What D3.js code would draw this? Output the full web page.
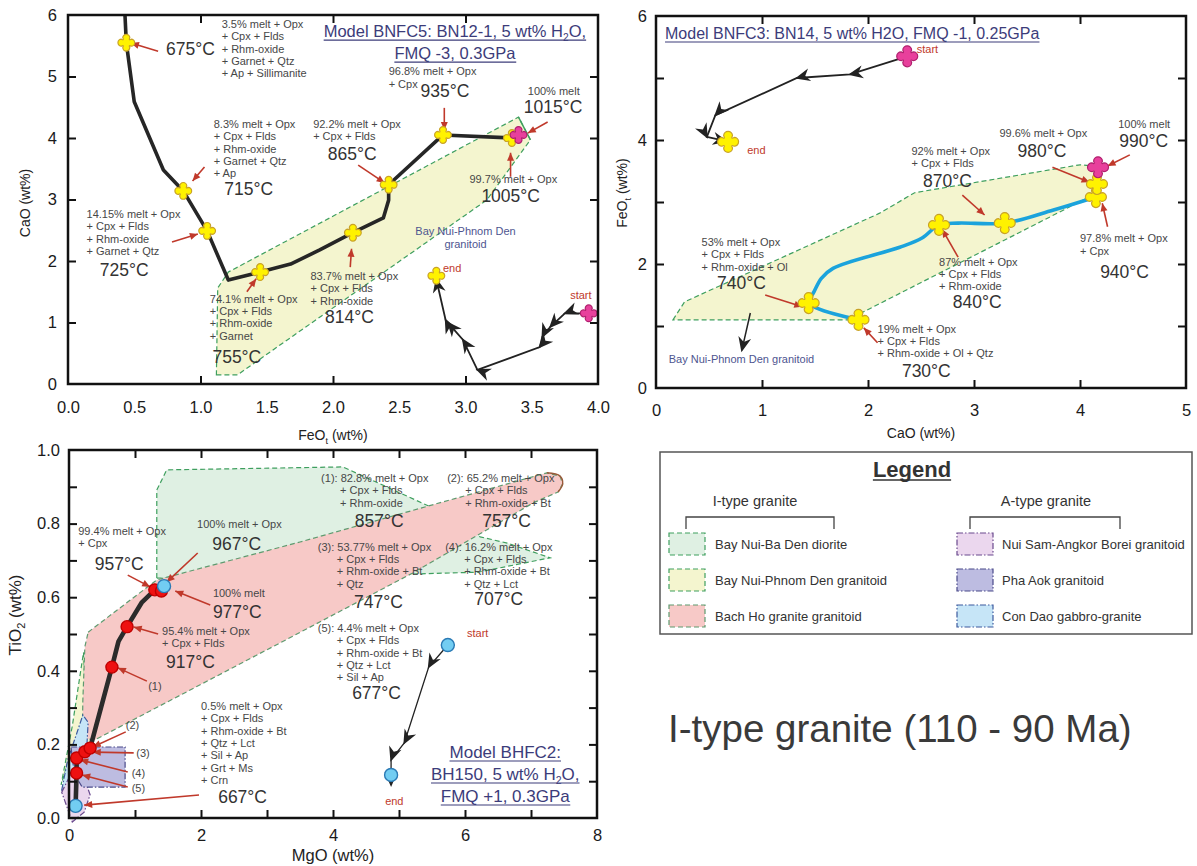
<!DOCTYPE html>
<html>
<head>
<meta charset="utf-8">
<script src="https://cdn.jsdelivr.net/npm/d3@7"></script>
<style>
  body { margin: 0; background: #fff; }
  svg { display: block; }
</style>
</head>
<body>
<svg id="chart" width="1197" height="866"></svg>
<script>
const FONT = '"Liberation Sans", Arial, Helvetica, sans-serif';

// ===================== Model BNFC5 : FeOt (x) vs CaO (y) =====================
const bnfc5Path = [[0.43,6.0],[0.44,5.55],[0.5,4.59],[0.72,3.48],[0.87,3.14],[1.05,2.49],[1.21,1.69],
  [1.45,1.82],[1.68,1.95],[1.90,2.18],[2.15,2.46],[2.38,2.70],[2.42,2.99],[2.42,3.24],[2.83,4.05],[3.35,4.0]];
const bnfc5Steps = [[0.44,5.55],[0.87,3.14],[1.05,2.49],[1.45,1.82],[2.15,2.46],[2.42,3.24],[2.83,4.05],[3.35,4.0]];
const bnfc5Liquid = [[3.40,4.05]];
const bnfc5Start = [3.93,1.15];
const bnfc5End = [2.78,1.76];
const bnfc5Descent = [[3.93,1.15],[3.75,1.15],[3.64,0.93],[3.58,0.77],[3.56,0.60],[3.09,0.23],[2.98,0.72],[2.87,0.99],[2.85,1.04],[2.78,1.70]];
const bnfc5Field = [[1.12,0.15],[1.28,0.15],[3.16,2.99],[3.49,3.97],[3.40,4.34],[1.21,1.82],[1.13,1.56]];
const bnfc5FieldEdge = [[3.40,4.34],[3.49,3.97]];
const bnfc5Notes = [
  {at:[1.16,5.79], lines:['3.5% melt + Opx','+ Cpx + Flds','+ Rhm-oxide','+ Garnet + Qtz','+ Ap + Sillimanite']},
  {at:[1.10,4.16], lines:['8.3% melt + Opx','+ Cpx + Flds','+ Rhm-oxide','+ Garnet + Qtz','+ Ap']},
  {at:[0.14,2.70], lines:['14.15% melt + Opx','+ Cpx + Flds','+ Rhm-oxide','+ Garnet + Qtz']},
  {at:[1.07,1.32], lines:['74.1% melt + Opx','+ Cpx + Flds','+ Rhm-oxide','+ Garnet']},
  {at:[1.83,1.69], lines:['83.7% melt + Opx','+ Cpx + Flds','+ Rhm-oxide']},
  {at:[1.85,4.16], lines:['92.2% melt + Opx','+ Cpx + Flds']},
  {at:[2.42,5.02], lines:['96.8% melt + Opx','+ Cpx']},
  {at:[3.47,4.70], lines:['100% melt']},
  {at:[3.03,3.27], lines:['99.7% melt + Opx']}
];
const bnfc5Temps = [
  {at:[0.74,5.35], t:'675°C'}, {at:[1.18,3.07], t:'715°C'}, {at:[0.24,1.76], t:'725°C'},
  {at:[1.09,0.34], t:'755°C'}, {at:[1.94,0.99], t:'814°C'}, {at:[1.96,3.64], t:'865°C'},
  {at:[2.66,4.67], t:'935°C'}, {at:[3.44,4.41], t:'1015°C'}, {at:[3.12,2.96], t:'1005°C'}
];
const bnfc5Pointers = [
  [[0.68,5.41],[0.475,5.545]], [[1.03,3.53],[0.94,3.30]], [[0.785,2.31],[0.98,2.44]],
  [[1.35,1.50],[1.42,1.71]], [[2.13,1.90],[2.14,2.20]], [[2.19,3.56],[2.39,3.27]],
  [[2.84,4.49],[2.84,4.13]], [[3.62,4.26],[3.47,4.08]], [[3.34,3.37],[3.34,3.76]]
];
const bnfc5FieldName = {at:[3.0,2.42], lines:['Bay Nui-Phnom Den','granitoid']};
const bnfc5Title = [[['Model BNFC5: BN12-1, 5 wt% H'],['2',true],['O,']], [['FMQ -3, 0.3GPa']]];
const bnfc5TitleAt = [2.92,5.64];

// ===================== Model BNFC3 : CaO (x) vs FeOt (y) =====================
const bnfc3Path = [[1.91,1.10],[1.44,1.37],[1.49,1.55],[1.56,1.77],[1.67,1.93],[2.30,2.27],[2.51,2.42],
  [2.67,2.63],[2.85,2.66],[3.29,2.66],[3.75,2.87],[4.15,3.08]];
const bnfc3Steps = [[1.91,1.10],[1.44,1.37],[2.67,2.63],[3.29,2.66],[4.15,3.08],[4.16,3.29]];
const bnfc3Liquid = [[4.17,3.56]];
const bnfc3Start = [2.37,5.35];
const bnfc3End = [0.68,3.97];
const bnfc3Descent = [[2.37,5.35],[1.83,5.06],[1.33,5.0],[0.56,4.40],[0.48,4.05],[0.66,3.98]];
const bnfc3Field = [[0.16,1.10],[0.27,1.39],[2.11,2.82],[2.44,3.15],[4.0,3.60],[4.14,3.58],[4.12,3.11],[1.81,1.10]];
const bnfc3FieldPointer = [[0.89,1.21],[0.81,0.61]];
const bnfc3Notes = [
  {at:[4.36,4.19], lines:['100% melt']},
  {at:[3.24,4.05], lines:['99.6% melt + Opx']},
  {at:[2.41,3.76], lines:['92% melt + Opx','+ Cpx + Flds']},
  {at:[4.00,2.35], lines:['97.8% melt + Opx','+ Cpx']},
  {at:[2.67,1.97], lines:['87% melt + Opx','+ Cpx + Flds','+ Rhm-oxide']},
  {at:[2.09,0.89], lines:['19% melt + Opx','+ Cpx + Flds','+ Rhm-oxide + Ol + Qtz']},
  {at:[0.43,2.29], lines:['53% melt + Opx','+ Cpx + Flds','+ Rhm-oxide + Ol']}
];
const bnfc3Temps = [
  {at:[4.37,3.89], t:'990°C'}, {at:[3.41,3.73], t:'980°C'}, {at:[2.52,3.24], t:'870°C'},
  {at:[4.19,1.77], t:'940°C'}, {at:[2.80,1.29], t:'840°C'}, {at:[2.32,0.18], t:'730°C'},
  {at:[0.575,1.60], t:'740°C'}
];
const bnfc3Pointers = [
  [[4.47,3.76],[4.26,3.58]], [[3.74,3.56],[4.09,3.32]], [[2.89,3.11],[3.10,2.79]],
  [[4.26,2.60],[4.21,2.98]], [[2.85,2.11],[2.70,2.56]], [[2.09,0.73],[1.96,0.97]],
  [[1.03,1.50],[1.38,1.31]]
];
const bnfc3FieldName = {at:[0.12,0.40], lines:['Bay Nui-Phnom Den granitoid']};
const bnfc3Title = [[['Model BNFC3: BN14, 5 wt% H2O, FMQ -1, 0.25GPa']]];
const bnfc3TitleAt = [0.085,5.63];

// ===================== Model BHFC2 : MgO (x) vs TiO2 (y) =====================
const bhfc2Path = [[0.10,0.033],[0.115,0.122],[0.115,0.163],[0.24,0.18],[0.32,0.19],[0.65,0.41],
  [0.75,0.48],[0.88,0.52],[1.10,0.585],[1.30,0.62],[1.44,0.63]];
const bhfc2Solid = [[0.115,0.122],[0.115,0.163],[0.24,0.18],[0.32,0.19],[0.65,0.41],[0.88,0.52],[1.30,0.62],[1.40,0.617]];
const bhfc2Liquid = [[0.10,0.033],[1.44,0.63]];
const bhfc2Start = [5.74,0.47];
const bhfc2End = [4.88,0.117];
const bhfc2Descent = [[5.74,0.47],[5.45,0.41],[5.08,0.204],[4.88,0.158],[4.88,0.09]];
const dioriteField = [[1.33,0.652],[1.33,0.891],[1.48,0.946],[4.15,0.954],[5.52,0.842],[6.23,0.764],
  [6.64,0.747],[7.29,0.707],[6.20,0.668],[5.21,0.663]];
const phnomDenField = [[0.22,0.45],[0.25,0.33],[0.33,0.20],[0.0,0.16],[-0.12,0.09],[0.05,0.25]];
const bachHoField = [[0.29,0.505],[1.33,0.647],[3.50,0.75],[7.24,0.938],[7.44,0.929],[7.48,0.908],
  [7.41,0.886],[7.03,0.856],[5.21,0.666],[3.20,0.476],[0.39,0.212],[0.20,0.217],[0.21,0.321],[0.24,0.465]];
const bachHoTip = [[7.24,0.938],[7.44,0.929],[7.48,0.908],[7.41,0.886]];
const conDaoField = [[-0.11,0.076],[-0.02,0.158],[0.11,0.226],[0.21,0.28],[0.29,0.26],[0.26,0.158],[0.17,0.076]];
const phaAokField = [[0.03,0.193],[0.85,0.193],[0.85,0.084],[0.20,0.084],[0.08,0.12]];
const nuiSamField = [[-0.11,0.07],[0.02,0.117],[0.23,0.109],[0.32,0.063],[0.23,0.016],[0.05,-0.011]];
const bhfc2Notes = [
  {at:[0.14,0.769], lines:['99.4% melt + Opx','+ Cpx']},
  {at:[1.94,0.788], lines:['100% melt + Opx']},
  {at:[2.18,0.600], lines:['100% melt']},
  {at:[1.41,0.497], lines:['95.4% melt + Opx','+ Cpx + Flds']},
  {at:[3.82,0.913], lines:['(1): 82.8% melt + Opx','+ Cpx + Flds','+ Rhm-oxide'], indent:19},
  {at:[5.73,0.913], lines:['(2): 65.2% melt + Opx','+ Cpx + Flds','+ Rhm-oxide + Bt'], indent:18},
  {at:[3.77,0.726], lines:['(3): 53.77% melt + Opx','+ Cpx + Flds','+ Rhm-oxide + Bt','+ Qtz'], indent:19},
  {at:[5.70,0.726], lines:['(4): 16.2% melt + Opx','+ Cpx + Flds','+ Rhm-oxide + Bt','+ Qtz + Lct'], indent:19},
  {at:[3.77,0.505], lines:['(5): 4.4% melt + Opx','+ Cpx + Flds','+ Rhm-oxide + Bt','+ Qtz + Lct','+ Sil + Ap'], indent:19},
  {at:[2.00,0.293], lines:['0.5% melt + Opx','+ Cpx + Flds','+ Rhm-oxide + Bt','+ Qtz + Lct','+ Sil + Ap','+ Grt + Ms','+ Crn']},
  {at:[1.20,0.348], lines:['(1)']}, {at:[0.86,0.242], lines:['(2)']}, {at:[1.02,0.166], lines:['(3)']},
  {at:[0.95,0.111], lines:['(4)']}, {at:[0.95,0.071], lines:['(5)']}
];
const bhfc2Temps = [
  {at:[0.39,0.674], t:'957°C'}, {at:[2.17,0.728], t:'967°C'}, {at:[2.18,0.543], t:'977°C'},
  {at:[1.47,0.408], t:'917°C'}, {at:[4.33,0.791], t:'857°C'}, {at:[6.26,0.791], t:'757°C'},
  {at:[4.32,0.571], t:'747°C'}, {at:[6.14,0.579], t:'707°C'}, {at:[4.29,0.323], t:'677°C'},
  {at:[2.26,0.041], t:'667°C'}
];
const bhfc2Pointers = [
  [[0.89,0.66],[1.23,0.628]], [[1.95,0.72],[1.48,0.641]], [[2.14,0.579],[1.61,0.617]],
  [[1.35,0.50],[0.98,0.519]], [[1.18,0.372],[0.74,0.408]], [[0.86,0.234],[0.36,0.193]],
  [[0.98,0.177],[0.36,0.179]], [[0.89,0.125],[0.17,0.158]], [[0.89,0.084],[0.20,0.117]],
  [[1.97,0.0625],[0.23,0.035]]
];
const bhfc2Title = [[['Model BHFC2:']], [['BH150, 5 wt% H'],['2',true],['O,']], [['FMQ +1, 0.3GPa']]];
const bhfc2TitleAt = [6.61,0.163];

// ===================== axis ticks and labels =====================
const feoLabelsA = [0,0.5,1,1.5,2,2.5,3,3.5,4];
const feoTicksA = [1,2,3];
const caoLabelsA = [0,1,2,3,4,5,6];
const caoTicksA = [1,2,3,4,5];
const caoLabelsB = [0,1,2,3,4,5];
const caoTicksB = [1,2,3,4];
const feoLabelsB = [0,2,4,6];
const feoTicksB = [1,2,3,4,5];
const mgoLabels = [0,2,4,6,8];
const mgoTicks = [1,2,3,4,5,6,7];
const tioLabels = [0,0.2,0.4,0.6,0.8,1.0];
const tioTicks = [0.1,0.2,0.3,0.4,0.5,0.6,0.7,0.8,0.9];

// ===================== legend =====================
const iTypeUnits = ['Bay Nui-Ba Den diorite','Bay Nui-Phnom Den granitoid','Bach Ho granite granitoid'];
const aTypeUnits = ['Nui Sam-Angkor Borei granitoid','Pha Aok granitoid','Con Dao gabbro-granite'];

// ----- field styles -----
const fieldStyle = {
  'Bay Nui-Ba Den diorite':        {fill:'#dff0e3', stroke:'#3f9f5f', dash:'5,3'},
  'Bay Nui-Phnom Den granitoid':   {fill:'#f4f5cf', stroke:'#3f9f5f', dash:'5,3'},
  'Bach Ho granite granitoid':     {fill:'#f7c9c7', stroke:'#5f9a6f', dash:'5,3'},
  'Nui Sam-Angkor Borei granitoid':{fill:'#ebd7ee', stroke:'#6a4a8e', dash:'6,2,1.5,2'},
  'Pha Aok granitoid':             {fill:'#bdbce1', stroke:'#4a4a8a', dash:'6,2,1.5,2'},
  'Con Dao gabbro-granite':        {fill:'#c6e5f7', stroke:'#3d5a9e', dash:'6,2,1.5,2'}
};

const svg = d3.select('#chart');
const defs = svg.append('defs');

// arrowheads
defs.append('marker').attr('id','headBlack').attr('markerUnits','userSpaceOnUse')
  .attr('viewBox','-15 -8 18 16').attr('refX',0).attr('refY',0)
  .attr('markerWidth',18).attr('markerHeight',16).attr('orient','auto')
  .append('path').attr('d','M2,0 L-13,-6.5 L-8.5,0 L-13,6.5 Z').attr('fill','#222');
defs.append('marker').attr('id','headRed').attr('markerUnits','userSpaceOnUse')
  .attr('viewBox','-9 -5 10 10').attr('refX',0).attr('refY',0)
  .attr('markerWidth',10).attr('markerHeight',10).attr('orient','auto')
  .append('path').attr('d','M0,0 L-8,-3.5 L-8,3.5 Z').attr('fill','#c0392b');

// four-lobed marker used for the model steps
const quatrefoil = {
  draw(ctx, size) {
    const r = Math.sqrt(size) / 2;
    const w = r * 0.42;
    const k = w * 0.55;
    ctx.moveTo(-w, -r + w);
    ctx.arc(0, -r + w, w, Math.PI, 0);
    ctx.quadraticCurveTo(k, -k, r - w, -w);
    ctx.arc(r - w, 0, w, -Math.PI / 2, Math.PI / 2);
    ctx.quadraticCurveTo(k, k, w, r - w);
    ctx.arc(0, r - w, w, 0, Math.PI);
    ctx.quadraticCurveTo(-k, k, -r + w, w);
    ctx.arc(-r + w, 0, w, Math.PI / 2, 3 * Math.PI / 2);
    ctx.quadraticCurveTo(-k, -k, -w, -r + w);
    ctx.closePath();
  }
};

const panels = {
  A: {x: d3.scaleLinear().domain([0,4]).range([68,598]), y: d3.scaleLinear().domain([0,6]).range([384,15])},
  B: {x: d3.scaleLinear().domain([0,5]).range([656,1186]), y: d3.scaleLinear().domain([0,6]).range([388,16])},
  C: {x: d3.scaleLinear().domain([0,8]).range([69,597]), y: d3.scaleLinear().domain([0,1]).range([818,450])}
};

function lineOf(p, curve) {
  return d3.line().x(d => p.x(d[0])).y(d => p.y(d[1])).curve(curve || d3.curveLinear);
}

function drawField(p, pts, name) {
  const s = fieldStyle[name];
  svg.append('path').attr('d', lineOf(p)(pts) + 'Z')
    .attr('fill', s.fill).attr('stroke', s.stroke).attr('stroke-width', 1.2)
    .attr('stroke-dasharray', s.dash);
}

function drawDescent(p, pts, width) {
  svg.append('path').attr('d', lineOf(p)(pts)).attr('fill','none')
    .attr('stroke','#222').attr('stroke-width', width || 1.8)
    .attr('marker-mid','url(#headBlack)').attr('marker-end','url(#headBlack)');
}

function drawPointers(p, list) {
  list.forEach(seg => {
    svg.append('line')
      .attr('x1', p.x(seg[0][0])).attr('y1', p.y(seg[0][1]))
      .attr('x2', p.x(seg[1][0])).attr('y2', p.y(seg[1][1]))
      .attr('stroke','#c0392b').attr('stroke-width',1.6)
      .attr('marker-end','url(#headRed)');
  });
}

function drawStars(p, pts, size, fill, stroke) {
  const sym = d3.symbol().type(quatrefoil).size(size);
  svg.append('g').selectAll('path').data(pts).join('path')
    .attr('transform', d => `translate(${p.x(d[0])},${p.y(d[1])})`)
    .attr('d', sym).attr('fill', fill).attr('stroke', stroke).attr('stroke-width', 1.2);
}

function drawDots(p, pts, r, fill, stroke) {
  svg.append('g').selectAll('circle').data(pts).join('circle')
    .attr('cx', d => p.x(d[0])).attr('cy', d => p.y(d[1])).attr('r', r)
    .attr('fill', fill).attr('stroke', stroke).attr('stroke-width', 1.4);
}

function drawNotes(p, notes, opts) {
  const o = Object.assign({size:11, gap:12.3, fill:'#474747', anchor:'start'}, opts || {});
  notes.forEach(n => {
    const t = svg.append('text').attr('font-family', FONT).attr('font-size', o.size)
      .attr('fill', o.fill).attr('text-anchor', o.anchor);
    n.lines.forEach((ln, i) => {
      t.append('tspan').attr('x', p.x(n.at[0]) + (i > 0 && n.indent ? n.indent : 0))
        .attr('y', p.y(n.at[1]) + i * o.gap).text(ln);
    });
  });
}

function drawTemps(p, temps) {
  temps.forEach(d => {
    svg.append('text').attr('x', p.x(d.at[0])).attr('y', p.y(d.at[1]))
      .attr('font-family', FONT).attr('font-size', 17.5).attr('fill', '#333').text(d.t);
  });
}

function richText(sel, segs, subSize) {
  let shifted = false;
  segs.forEach(([s, sub]) => {
    const ts = sel.append('tspan').text(s);
    if (sub && !shifted) { ts.attr('dy', 3.5).attr('font-size', subSize); shifted = true; }
    else if (!sub && shifted) { ts.attr('dy', -3.5); shifted = false; }
    else if (sub) ts.attr('font-size', subSize);
  });
  return sel;
}

function drawTitle(p, lines, at, anchor, size, gap) {
  lines.forEach((segs, i) => {
    const y = p.y(at[1]) + i * gap;
    const t = svg.append('text').attr('x', p.x(at[0])).attr('y', y)
      .attr('font-family', FONT).attr('font-size', size).attr('fill', '#3c3c7a')
      .attr('text-anchor', anchor);
    richText(t, segs, size * 0.62);
    const b = t.node().getBBox();
    svg.append('line').attr('x1', b.x).attr('x2', b.x + b.width)
      .attr('y1', y + 3).attr('y2', y + 3).attr('stroke', '#3c3c7a').attr('stroke-width', 1.1);
  });
}

function drawFrame(p, o) {
  const [xl, xr] = p.x.range();
  const [yb, yt] = p.y.range();
  const g = svg.append('g');
  g.append('g').attr('transform', `translate(0,${yb})`)
    .call(d3.axisBottom(p.x).tickValues(o.xTicks).tickSize(-8).tickFormat(''));
  g.append('g').attr('transform', `translate(0,${yt})`)
    .call(d3.axisTop(p.x).tickValues(o.xTicks).tickSize(-8).tickFormat(''));
  g.append('g').attr('transform', `translate(${xl},0)`)
    .call(d3.axisLeft(p.y).tickValues(o.yTicks).tickSize(-8).tickFormat(''));
  g.append('g').attr('transform', `translate(${xr},0)`)
    .call(d3.axisRight(p.y).tickValues(o.yTicks).tickSize(-8).tickFormat(''));
  // tick labels
  g.append('g').attr('transform', `translate(0,${yb})`)
    .call(d3.axisBottom(p.x).tickValues(o.xLabels).tickSize(0).tickPadding(o.xPad).tickFormat(o.xFmt));
  g.append('g').attr('transform', `translate(${xl},0)`)
    .call(d3.axisLeft(p.y).tickValues(o.yLabels).tickSize(0).tickPadding(o.yPad).tickFormat(o.yFmt));
  g.selectAll('.domain').remove();
  g.selectAll('.tick line').attr('stroke', '#111').attr('stroke-width', 2);
  g.selectAll('.tick text').attr('font-family', FONT).attr('font-size', 16.5).attr('fill', '#1a1a1a');
  g.append('rect').attr('x', xl).attr('y', yt).attr('width', xr - xl).attr('height', yb - yt)
    .attr('fill', 'none').attr('stroke', '#111').attr('stroke-width', 2.5);
}

function axisTitle(x, y, segs, size, rotate) {
  const t = svg.append('text').attr('font-family', FONT).attr('font-size', size)
    .attr('fill', '#222').attr('text-anchor', 'middle')
    .attr('transform', `translate(${x},${y})` + (rotate ? ' rotate(-90)' : ''));
  richText(t, segs, size * 0.65);
}

// ============================ Panel A ============================
{
  const p = panels.A;
  drawField(p, bnfc5Field, 'Bay Nui-Phnom Den granitoid');
  svg.append('path').attr('d', lineOf(p)(bnfc5FieldEdge)).attr('stroke', '#3f9f5f')
    .attr('stroke-width', 1.4).attr('fill', 'none');
  svg.append('path').attr('d', lineOf(p)(bnfc5Path)).attr('fill', 'none')
    .attr('stroke', '#262626').attr('stroke-width', 3.6).attr('stroke-linejoin', 'round');
  drawDescent(p, bnfc5Descent);
  drawPointers(p, bnfc5Pointers);
  drawStars(p, bnfc5Steps.concat([bnfc5End]), 280, '#fff200', '#c9a227');
  drawStars(p, bnfc5Liquid.concat([bnfc5Start]), 280, '#e8409c', '#b0206e');
  drawNotes(p, bnfc5Notes);
  drawTemps(p, bnfc5Temps);
  drawNotes(p, [bnfc5FieldName], {fill:'#4e5590', anchor:'middle', gap:12.5});
  drawNotes(p, [{at:[2.83,1.82], lines:['end']}, {at:[3.79,1.38], lines:['start']}], {fill:'#c0392b'});
  drawFrame(p, {xTicks:feoTicksA, yTicks:caoTicksA, xLabels:feoLabelsA, yLabels:caoLabelsA,
    xFmt:d3.format('.1f'), yFmt:d3.format('d'), xPad:17, yPad:11});
  drawTitle(p, bnfc5Title, bnfc5TitleAt, 'middle', 16.5, 22);
  axisTitle(333, 440, [['FeO'],['t',true],[' (wt%)']], 14);
  axisTitle(30, 203, [['CaO (wt%)']], 14, true);
}

// ============================ Panel B ============================
{
  const p = panels.B;
  drawField(p, bnfc3Field, 'Bay Nui-Phnom Den granitoid');
  svg.append('path').attr('d', lineOf(p, d3.curveCatmullRom.alpha(0.5))(bnfc3Path)).attr('fill', 'none')
    .attr('stroke', '#1ba3dc').attr('stroke-width', 3.6).attr('stroke-linejoin', 'round');
  drawDescent(p, bnfc3Descent);
  svg.append('line').attr('x1', p.x(bnfc3FieldPointer[0][0])).attr('y1', p.y(bnfc3FieldPointer[0][1]))
    .attr('x2', p.x(bnfc3FieldPointer[1][0])).attr('y2', p.y(bnfc3FieldPointer[1][1]))
    .attr('stroke', '#222').attr('stroke-width', 1.5).attr('marker-end', 'url(#headBlack)');
  drawPointers(p, bnfc3Pointers);
  drawStars(p, bnfc3Steps.concat([bnfc3End]), 440, '#fff200', '#c9a227');
  drawStars(p, bnfc3Liquid.concat([bnfc3Start]), 440, '#e8409c', '#b0206e');
  drawNotes(p, bnfc3Notes);
  drawTemps(p, bnfc3Temps);
  drawNotes(p, [bnfc3FieldName], {fill:'#4e5590'});
  drawNotes(p, [{at:[0.86,3.77], lines:['end']}, {at:[2.46,5.40], lines:['start']}], {fill:'#c0392b'});
  drawFrame(p, {xTicks:caoTicksB, yTicks:feoTicksB, xLabels:caoLabelsB, yLabels:feoLabelsB,
    xFmt:d3.format('d'), yFmt:d3.format('d'), xPad:16, yPad:9});
  drawTitle(p, bnfc3Title, bnfc3TitleAt, 'start', 16, 20);
  axisTitle(921, 438, [['CaO (wt%)']], 14);
  axisTitle(627, 193, [['FeO'],['t',true],[' (wt%)']], 14, true);
}

// ============================ Panel C ============================
{
  const p = panels.C;
  drawField(p, dioriteField, 'Bay Nui-Ba Den diorite');
  drawField(p, phnomDenField, 'Bay Nui-Phnom Den granitoid');
  drawField(p, bachHoField, 'Bach Ho granite granitoid');
  svg.append('path').attr('d', lineOf(p, d3.curveCatmullRom)(bachHoTip)).attr('fill', 'none')
    .attr('stroke', '#9a5a3a').attr('stroke-width', 1.4);
  drawField(p, conDaoField, 'Con Dao gabbro-granite');
  drawField(p, nuiSamField, 'Nui Sam-Angkor Borei granitoid');
  drawField(p, phaAokField, 'Pha Aok granitoid');
  svg.append('path').attr('d', lineOf(p)(bhfc2Path)).attr('fill', 'none')
    .attr('stroke', '#2b2b2b').attr('stroke-width', 4.6).attr('stroke-linejoin', 'round');
  drawDescent(p, bhfc2Descent, 1.3);
  drawPointers(p, bhfc2Pointers);
  drawDots(p, bhfc2Solid, 6, '#ee1111', '#c00000');
  drawDots(p, bhfc2Liquid.concat([bhfc2Start, bhfc2End]), 6.5, '#72cdf2', '#2a7ab5');
  drawNotes(p, bhfc2Notes);
  drawTemps(p, bhfc2Temps);
  drawNotes(p, [{at:[4.79,0.035], lines:['end']}, {at:[6.03,0.492], lines:['start']}], {fill:'#c0392b'});
  drawFrame(p, {xTicks:mgoTicks, yTicks:tioTicks, xLabels:mgoLabels, yLabels:tioLabels,
    xFmt:d3.format('d'), yFmt:d3.format('.1f'), xPad:11, yPad:9});
  drawTitle(p, bhfc2Title, bhfc2TitleAt, 'middle', 17, 22);
  axisTitle(333, 861, [['MgO (wt%)']], 16.5);
  axisTitle(21, 615, [['TiO'],['2',true],[' (wt%)']], 17, true);
}

// ============================ Legend ============================
{
  const g = svg.append('g');
  g.append('rect').attr('x', 660).attr('y', 452).attr('width', 532).attr('height', 182)
    .attr('fill', '#fff').attr('stroke', '#555').attr('stroke-width', 1.5);
  const lt = g.append('text').attr('x', 912).attr('y', 477).attr('text-anchor', 'middle')
    .attr('font-family', FONT).attr('font-weight', 'bold').attr('font-size', 22).attr('fill', '#333')
    .text('Legend');
  const lb = lt.node().getBBox();
  g.append('line').attr('x1', lb.x).attr('x2', lb.x + lb.width).attr('y1', 480).attr('y2', 480)
    .attr('stroke', '#333').attr('stroke-width', 1.6);

  const groups = [
    {title:'I-type granite', cx:755, bx:[686,834], sx:669, tx:715, units:iTypeUnits},
    {title:'A-type granite', cx:1046, bx:[970,1120], sx:957, tx:1002, units:aTypeUnits}
  ];
  const rowY = d3.scaleBand().domain([0,1,2]).range([533,641]).paddingInner(0);
  groups.forEach(gr => {
    g.append('text').attr('x', gr.cx).attr('y', 506).attr('text-anchor', 'middle')
      .attr('font-family', FONT).attr('font-size', 14.5).attr('fill', '#333').text(gr.title);
    g.append('path').attr('d', `M${gr.bx[0]},529 V517 H${gr.bx[1]} V529`)
      .attr('fill', 'none').attr('stroke', '#444').attr('stroke-width', 1.3);
    gr.units.forEach((u, i) => {
      const s = fieldStyle[u];
      const y = rowY(i);
      g.append('rect').attr('x', gr.sx).attr('y', y).attr('width', 36).attr('height', 22)
        .attr('fill', s.fill).attr('stroke', s.stroke).attr('stroke-width', 1.2)
        .attr('stroke-dasharray', s.dash);
      g.append('text').attr('x', gr.tx).attr('y', y + 16).attr('font-family', FONT)
        .attr('font-size', 13).attr('fill', '#333').text(u);
    });
  });
}

// ============================ Heading ============================
svg.append('text').attr('x', 668).attr('y', 742).attr('font-family', FONT)
  .attr('font-size', 38.5).attr('fill', '#3a3a3a').text('I-type granite (110 - 90 Ma)');
</script>
</body>
</html>
